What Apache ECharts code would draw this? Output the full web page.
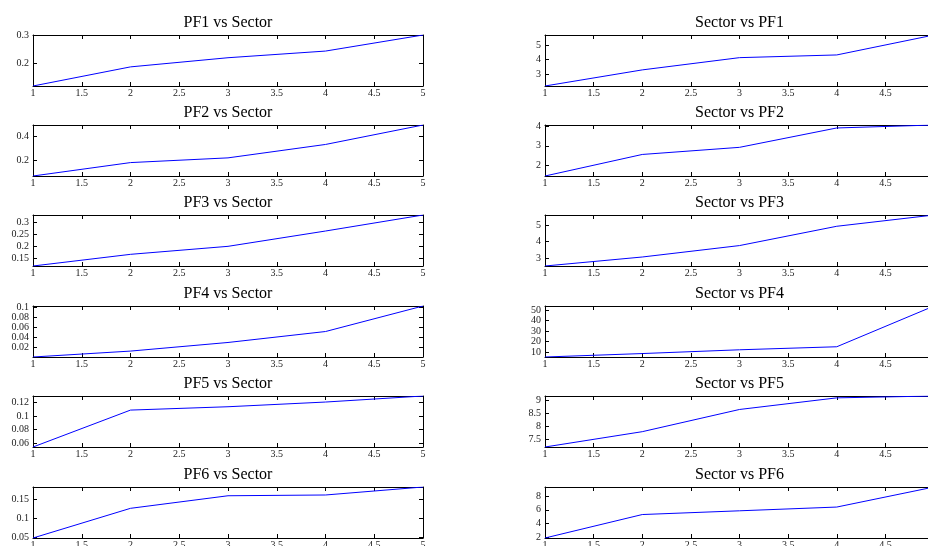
<!DOCTYPE html>
<html>
<head>
<meta charset="utf-8">
<script src="https://cdn.jsdelivr.net/npm/echarts@6/dist/echarts.min.js"></script>
<style>
  html, body { margin: 0; padding: 0; background: #fff; }
  #chart { width: 928px; height: 546px; }
</style>
</head>
<body>
<div id="chart"></div>
<script>
const sectors = [1, 2, 3, 4, 5];

// left column: PFn vs Sector
const pf1 = [0.117, 0.186, 0.219, 0.243, 0.301];
const pf2 = [0.072, 0.183, 0.222, 0.333, 0.494];
const pf3 = [0.120, 0.168, 0.201, 0.264, 0.330];
const pf4 = [0.0005, 0.0124, 0.0297, 0.0517, 0.103];
const pf5 = [0.054, 0.109, 0.114, 0.121, 0.130];
const pf6 = [0.049, 0.127, 0.160, 0.162, 0.183];

// right column: Sector vs PFn
const secPf1 = [2.15, 3.28, 4.14, 4.33, 5.73];
const secPf2 = [1.47, 2.56, 2.92, 3.90, 4.05];
const secPf3 = [2.51, 3.06, 3.76, 4.94, 5.63];
const secPf4 = [5.1, 8.4, 12.0, 14.9, 53.9];
const secPf5 = [7.22, 7.80, 8.64, 9.08, 9.15];
const secPf6 = [1.85, 5.3, 5.85, 6.4, 9.35];

// y tick labels
const pf1Ticks = [0.2, 0.3];
const pf2Ticks = [0.2, 0.4];
const pf3Ticks = [0.15, 0.2, 0.25, 0.3];
const pf4Ticks = [0.02, 0.04, 0.06, 0.08, 0.1];
const pf5Ticks = [0.06, 0.08, 0.1, 0.12];
const pf6Ticks = [0.05, 0.1, 0.15];
const secPf1Ticks = [3, 4, 5];
const secPf2Ticks = [2, 3, 4];
const secPf3Ticks = [3, 4, 5];
const secPf4Ticks = [10, 20, 30, 40, 50];
const secPf5Ticks = [7.5, 8, 8.5, 9];
const secPf6Ticks = [2, 4, 6, 8];

const panels = [
  { title: 'PF1 vs Sector', data: pf1, ticks: pf1Ticks, col: 0, row: 0 },
  { title: 'PF2 vs Sector', data: pf2, ticks: pf2Ticks, col: 0, row: 1 },
  { title: 'PF3 vs Sector', data: pf3, ticks: pf3Ticks, col: 0, row: 2 },
  { title: 'PF4 vs Sector', data: pf4, ticks: pf4Ticks, col: 0, row: 3 },
  { title: 'PF5 vs Sector', data: pf5, ticks: pf5Ticks, col: 0, row: 4 },
  { title: 'PF6 vs Sector', data: pf6, ticks: pf6Ticks, col: 0, row: 5 },
  { title: 'Sector vs PF1', data: secPf1, ticks: secPf1Ticks, col: 1, row: 0 },
  { title: 'Sector vs PF2', data: secPf2, ticks: secPf2Ticks, col: 1, row: 1 },
  { title: 'Sector vs PF3', data: secPf3, ticks: secPf3Ticks, col: 1, row: 2 },
  { title: 'Sector vs PF4', data: secPf4, ticks: secPf4Ticks, col: 1, row: 3 },
  { title: 'Sector vs PF5', data: secPf5, ticks: secPf5Ticks, col: 1, row: 4 },
  { title: 'Sector vs PF6', data: secPf6, ticks: secPf6Ticks, col: 1, row: 5 }
];

const rowTops = [35, 125, 215, 306, 396, 487];
const plotH = 51;
const cols = [{ left: 33, width: 390 }, { left: 545, width: 389 }];
const font = 'Liberation Serif';

const axisLine = { show: true, onZero: false, lineStyle: { color: '#000', width: 1 } };
const tick = { show: true, inside: true, length: 4, lineStyle: { color: '#000' } };
const labelStyle = { color: '#222', fontFamily: font, fontSize: 10 };

const grid = [], xAxis = [], yAxis = [], series = [], title = [];

panels.forEach((p, i) => {
  const c = cols[p.col];
  const top = rowTops[p.row];
  // right column runs past the window edge, like the original figure
  grid.push({ left: c.left, top: top, width: c.width, height: plotH, outerBoundsMode: 'none', containLabel: false });
  title.push({
    text: p.title,
    left: c.left + c.width / 2,
    top: top - 20,
    textAlign: 'center',
    padding: 0,
    textStyle: { fontFamily: font, fontSize: 16, fontWeight: 'normal', color: '#000' }
  });
  const yMin = Math.min(...p.data), yMax = Math.max(...p.data);
  // bottom x axis with labels, top x axis for the box ticks
  xAxis.push({
    type: 'value', gridIndex: i, position: 'bottom', min: 1, max: 5, interval: 0.5,
    axisLine, axisTick: tick, splitLine: { show: false },
    axisLabel: Object.assign({ margin: 2, showMinLabel: true, showMaxLabel: true }, labelStyle)
  });
  xAxis.push({
    type: 'value', gridIndex: i, position: 'top', min: 1, max: 5, interval: 0.5,
    axisLine, axisTick: tick, splitLine: { show: false }, axisLabel: { show: false }
  });
  yAxis.push({
    type: 'value', gridIndex: i, position: 'left', min: yMin, max: yMax,
    axisLine, splitLine: { show: false },
    axisTick: Object.assign({ customValues: p.ticks }, tick),
    axisLabel: Object.assign({ margin: 4, customValues: p.ticks }, labelStyle)
  });
  yAxis.push({
    type: 'value', gridIndex: i, position: 'right', min: yMin, max: yMax,
    axisLine, splitLine: { show: false },
    axisTick: Object.assign({ customValues: p.ticks }, tick),
    axisLabel: { show: false }
  });
  series.push({
    type: 'line',
    xAxisIndex: i * 2,
    yAxisIndex: i * 2,
    data: sectors.map((s, k) => [s, p.data[k]]),
    showSymbol: false,
    lineStyle: { color: '#0000ff', width: 1 },
    animation: false
  });
});

const chart = echarts.init(document.getElementById('chart'));
chart.setOption({
  backgroundColor: '#fff',
  animation: false,
  title, grid, xAxis, yAxis, series
});
</script>
</body>
</html>
